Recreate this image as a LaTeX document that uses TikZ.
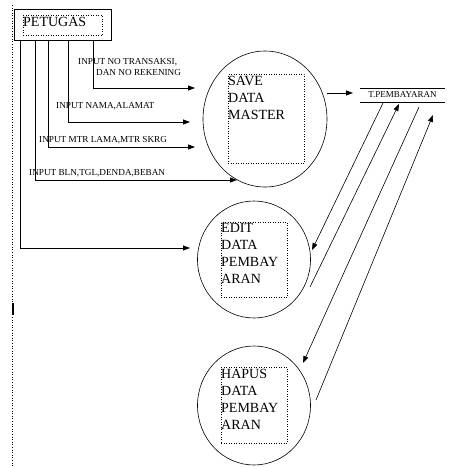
\documentclass[tikz,border=0pt]{standalone}
\usepackage{fontspec}
\setmainfont{Liberation Serif}
\usetikzlibrary{arrows.meta,shapes.geometric}
\begin{document}
\begin{tikzpicture}[x=1pt,y=-1pt,
  flow/.style={line width=0.8pt,-{Triangle[length=7pt,width=5pt]}},
  slant/.style={line width=0.6pt,-{Triangle[length=7pt,width=5pt]}},
  proc/.style={ellipse,draw,line width=0.6pt,inner sep=0},
  dotbox/.style={draw,dotted,line width=0.5pt,inner sep=0},
  lbl/.style={anchor=west,inner sep=0,font=\fontsize{9.2}{10}\selectfont},
  big/.style={font=\fontsize{14}{17}\selectfont,align=left,inner sep=0,anchor=north west}]
\useasboundingbox (0,0) rectangle (457,467);
% left dotted margin line
\draw[dotted,line width=0.6pt] (12.5,5) -- (12.5,467);
\fill (12,303) rectangle (14,315);
% PETUGAS
\node[draw,line width=1pt,minimum width=97pt,minimum height=31pt,inner sep=0] (pet) at (62.5,24.5) {};
\node[dotbox,minimum width=79pt,minimum height=20pt] (petin) at (62.5,25) {};
\node[anchor=west,inner sep=0,font=\fontsize{14}{16}\selectfont] (pett) at (23,21.5) {PETUGAS};
% processes
\node[proc,minimum width=124pt,minimum height=136pt] (save) at (265,119) {};
\node[dotbox,minimum width=76pt,minimum height=89pt] (savebox) at (266,118.5) {};
\node[big] (savet) at (228,76) {SAVE\\DATA\\MASTER};
\node[proc,minimum width=113pt,minimum height=117pt] (edit) at (254,259.5) {};
\node[dotbox,minimum width=66pt,minimum height=75pt] (editbox) at (254,259.5) {};
\node[big] (editt) at (221,223.5) {EDIT\\DATA\\PEMBAY\\ARAN};
\node[proc,minimum width=113pt,minimum height=119pt] (hapus) at (254,405.5) {};
\node[dotbox,minimum width=66pt,minimum height=76pt] (hapusbox) at (254,405) {};
\node[big] (hapust) at (221,369.5) {HAPUS\\DATA\\PEMBAY\\ARAN};
% data store
\draw[line width=0.7pt] (360,88) coordinate (dsTL) -- (445,88);
\draw[line width=0.7pt] (360,102) -- (445,102);
\node[inner sep=0,font=\fontsize{9}{10}\selectfont] (ds) at (402.5,95) {T.PEMBAYARAN};
% input flows
\coordinate (e1) at (195,88);
\coordinate (e2) at (190,122);
\coordinate (e3) at (195,147);
\coordinate (e4) at (237,180);
\coordinate (e5) at (190,248);
\draw[flow] (pet.south -| 93,0) |- (e1);
\draw[flow] (pet.south -| 68,0) |- (e2);
\draw[flow] (pet.south -| 48,0) |- (e3);
\draw[flow] (pet.south -| 35,0) |- (e4);
\draw[flow] (pet.south -| 20,0) |- (e5);
\node[lbl] (l1a) at (78,62) {INPUT NO TRANSAKSI,};
\node[lbl] (l1b) at (96,72) {DAN NO REKENING};
\node[lbl] (l2) at (56,106) {INPUT NAMA,ALAMAT};
\node[lbl] (l3) at (39,140) {INPUT MTR LAMA,MTR SKRG};
\node[lbl] (l4) at (29,173) {INPUT BLN,TGL,DENDA,BEBAN};
% save -> store
\coordinate (s1) at (353,93);
\draw[flow] (save.east |- 0,93) -- (s1);
% slanted flows
\coordinate (a1) at (383,103);
\coordinate (a2) at (312,250);
\draw[slant] (a1) -- (a2);
\coordinate (b1) at (310,287);
\coordinate (b2) at (399,104);
\draw[slant] (b1) -- (b2);
\coordinate (c1) at (419,107);
\coordinate (c2) at (303,363);
\draw[slant] (c1) -- (c2);
\coordinate (d1) at (316,400);
\coordinate (d2) at (433,115);
\draw[slant] (d1) -- (d2);
\end{tikzpicture}
\end{document}
